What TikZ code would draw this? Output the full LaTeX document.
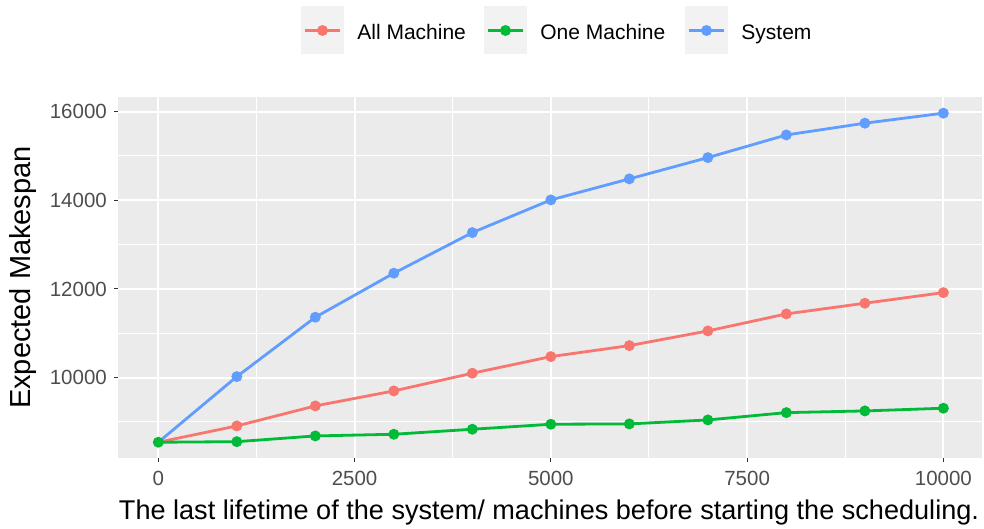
\documentclass[tikz,border=0pt]{standalone}
\usepackage{fontspec}
\setmainfont{Liberation Sans}
\usetikzlibrary{positioning}
\definecolor{allm}{HTML}{F8766D}
\definecolor{onem}{HTML}{00BA38}
\definecolor{sysm}{HTML}{619CFF}
\definecolor{panelbg}{HTML}{EBEBEB}
\definecolor{keybg}{HTML}{F2F2F2}
\definecolor{ticktxt}{HTML}{4D4D4D}
\definecolor{tickln}{HTML}{333333}
% expected makespan per lifetime, first point (0,8543) shared
\newcommand{\allvals}{1000/8911,2000/9362,3000/9700,4000/10099,5000/10474,6000/10722,7000/11053,8000/11437,9000/11678,10000/11917}
\newcommand{\onevals}{1000/8556,2000/8685,3000/8723,4000/8836,5000/8949,6000/8956,7000/9046,8000/9211,9000/9249,10000/9310}
\newcommand{\sysvals}{1000/10023,2000/11362,3000/12355,4000/13271,5000/14008,6000/14482,7000/14962,8000/15473,9000/15738,10000/15964}

\begin{document}
\begin{tikzpicture}[x=1pt,y=-1pt,
  series/.style={line width=2.8pt,line join=round},
  major/.style={white,line width=2pt},
  minor/.style={white,line width=1pt},
  tickmark/.style={tickln,line width=1.1pt},
  ticklab/.style={font=\fontsize{20.5}{24}\selectfont,text=ticktxt,inner sep=0pt},
  axtitle/.style={font=\fontsize{27.1}{32}\selectfont,inner sep=0pt},
  keybox/.style={fill=keybg,minimum width=43pt,minimum height=48pt,inner sep=0pt},
  leglab/.style={font=\fontsize{21}{25}\selectfont,inner sep=0pt,text height=15pt,text depth=0pt,yshift=-2pt}]

\path[use as bounding box] (0,0) rectangle (984,529);

%% panel
\node[fill=panelbg,minimum width=864pt,minimum height=361pt,inner sep=0pt,anchor=north west] (panel) at (118,97) {};

%% data space: x = lifetime, y = makespan
\begin{scope}[shift={(158.3,821.05)},x=0.0785pt,y=0.044335pt]
  \foreach \v in {9000,11000,13000,15000} \draw[minor] (-513,\v) -- (10493,\v);
  \foreach \v in {1250,3750,6250,8750} \draw[minor] (\v,8189) -- (\v,16331);
  \foreach \v in {10000,12000,14000,16000} {
    \draw[major] (-513,\v) -- (10493,\v);
    \draw[tickmark] (-513,\v) -- ++(-4.5pt,0);
    \node[ticklab,anchor=east,xshift=-11pt] (ylab\v) at (-513,\v) {\v};
  }
  \foreach \v in {0,2500,5000,7500,10000} {
    \draw[major] (\v,8189) -- (\v,16331);
    \draw[tickmark] (\v,8189) -- ++(0,-4.5pt);
    \node[ticklab,yshift=-21pt] (xlab\v) at (\v,8189) {\v};
  }

  %% lines
  \draw[series,sysm] (0,8543) foreach \x/\y in \sysvals { -- (\x,\y) };
  \draw[series,allm] (0,8543) foreach \x/\y in \allvals { -- (\x,\y) };
  \draw[series,onem] (0,8543) foreach \x/\y in \onevals { -- (\x,\y) };
  %% points
  \foreach \x/\y in \sysvals \fill[sysm] (\x,\y) circle[radius=5.5pt];
  \foreach \x/\y in \allvals \fill[allm] (\x,\y) circle[radius=5.5pt];
  \foreach \x/\y in \onevals \fill[onem] (\x,\y) circle[radius=5.5pt];
  \fill[onem] (0,8543) circle[radius=5.5pt];
\end{scope}

%% axis titles
\node[axtitle] (xtitle) at (549,512) {The last lifetime of the system/ machines before starting the scheduling.};
\node[axtitle,font=\fontsize{29}{34}\selectfont,rotate=90] (ytitle) at (23,277.5) {Expected Makespan};

%% legend
\node[keybox] (keyall) at (322.5,30.5) {};
\draw[series,allm] ([xshift=4pt]keyall.west) -- ([xshift=-4pt]keyall.east);
\fill[allm] (keyall) circle[radius=5.5pt];
\node[leglab,right=13pt of keyall] (laball) {All Machine};

\node[keybox] (keyone) at (505.5,30.5) {};
\draw[series,onem] ([xshift=4pt]keyone.west) -- ([xshift=-4pt]keyone.east);
\fill[onem] (keyone) circle[radius=5.5pt];
\node[leglab,right=13pt of keyone] (labone) {One Machine};

\node[keybox] (keysys) at (706.5,30.5) {};
\draw[series,sysm] ([xshift=4pt]keysys.west) -- ([xshift=-4pt]keysys.east);
\fill[sysm] (keysys) circle[radius=5.5pt];
\node[leglab,right=13pt of keysys] (labsys) {System};
\end{tikzpicture}
\end{document}
